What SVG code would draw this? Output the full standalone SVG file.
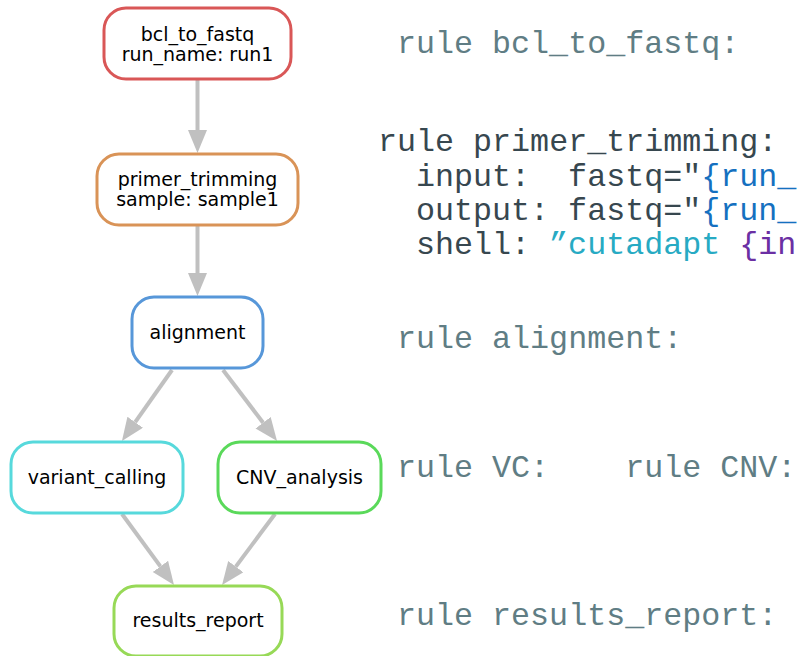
<svg xmlns="http://www.w3.org/2000/svg" width="798" height="656" viewBox="0 0 798 656">
  <style>
    .node rect { fill: #ffffff; stroke-width: 3; }
    .node text { font-family: "DejaVu Sans", Verdana, sans-serif; font-size: 19px; fill: #000000; text-anchor: middle; }
    .edge { fill: none; stroke: #c0c0c0; stroke-width: 4; marker-end: url(#arrow); }
    .code { font-family: "Liberation Mono", "Courier New", monospace; font-size: 31.7px; white-space: pre; }
    .rule { fill: #607d84; }
    .dark { fill: #37474f; }
    .blue { fill: #1570c0; }
    .cyan { fill: #27aac3; }
    .purple { fill: #6b2fa3; }
  </style>
  <defs>
    <marker id="arrow" markerUnits="userSpaceOnUse" markerWidth="24" markerHeight="20" refX="0" refY="9.5" orient="auto">
      <path d="M0,0 L23,9.5 L0,19 Z" fill="#c0c0c0"/>
    </marker>
  </defs>

  <rect width="798" height="656" fill="#ffffff"/>

  <!-- connectors: lines stop at the arrow base, the marker supplies the head -->
  <g id="edges">
    <path class="edge" d="M197.5,80 L197.5,130"/>
    <path class="edge" d="M197.5,226 L197.5,273"/>
    <path class="edge" d="M172,370 L135.2,422.2"/>
    <path class="edge" d="M223,370 L263.1,422.7"/>
    <path class="edge" d="M122,514 L160.4,566.4"/>
    <path class="edge" d="M275,514 L235.8,566.6"/>
  </g>

  <!-- workflow rules -->
  <g id="bcl_to_fastq" class="node">
    <rect x="104" y="8" width="187" height="71" rx="22" ry="22" stroke="#d95757"/>
    <text x="197.5" y="41">bcl_to_fastq</text>
    <text x="197.5" y="61">run_name: run1</text>
  </g>
  <g id="primer_trimming" class="node">
    <rect x="97" y="154" width="201" height="71" rx="22" ry="22" stroke="#d99357"/>
    <text x="197.5" y="186">primer_trimming</text>
    <text x="197.5" y="206">sample: sample1</text>
  </g>
  <g id="alignment" class="node">
    <rect x="132" y="297" width="131" height="71" rx="22" ry="22" stroke="#5797d9"/>
    <text x="197.5" y="339">alignment</text>
  </g>
  <g id="variant_calling" class="node">
    <rect x="11" y="442" width="172" height="71" rx="22" ry="22" stroke="#57d9dc"/>
    <text x="97" y="484">variant_calling</text>
  </g>
  <g id="CNV_analysis" class="node">
    <rect x="218" y="442" width="163" height="71" rx="22" ry="22" stroke="#5ad95a"/>
    <text x="299.5" y="484">CNV_analysis</text>
  </g>
  <g id="results_report" class="node">
    <rect x="114" y="586" width="168" height="70" rx="22" ry="22" stroke="#97d957"/>
    <text x="198" y="627">results_report</text>
  </g>

  <!-- rule source listing -->
  <g id="code">
    <text class="code rule" x="397" y="53">rule bcl_to_fastq:</text>
    <text class="code dark" x="378" y="151">rule primer_trimming:</text>
    <text class="code dark" x="416" y="186" xml:space="preserve">input:  fastq="<tspan class="blue">{run_</tspan></text>
    <text class="code dark" x="416" y="220" xml:space="preserve">output: fastq="<tspan class="blue">{run_</tspan></text>
    <text class="code dark" x="416" y="254" xml:space="preserve">shell: <tspan class="cyan">”cutadapt </tspan><tspan class="purple">{in</tspan></text>
    <text class="code rule" x="397" y="348">rule alignment:</text>
    <text class="code rule" x="397" y="477" xml:space="preserve">rule VC:    rule CNV:</text>
    <text class="code rule" x="397" y="625">rule results_report:</text>
  </g>
</svg>
